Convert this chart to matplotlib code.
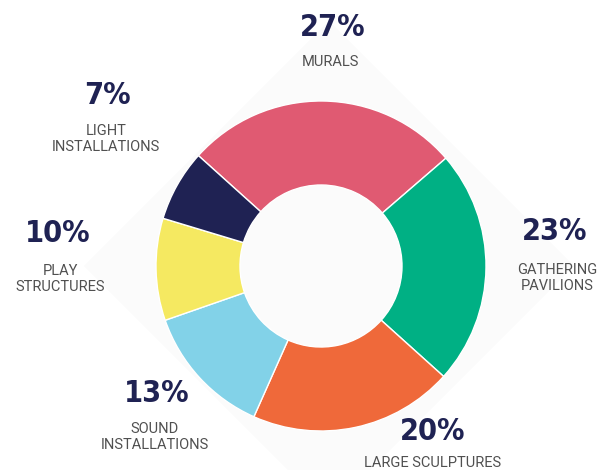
import matplotlib.pyplot as plt
from matplotlib.patches import Polygon

labels = ['MURALS', 'GATHERING\nPAVILIONS', 'LARGE SCULPTURES',
          'SOUND\nINSTALLATIONS', 'PLAY\nSTRUCTURES', 'LIGHT\nINSTALLATIONS']
values = [27, 23, 20, 13, 10, 7]
colors = ['#E05A72', '#00B084', '#EF693A', '#82D2E8', '#F5E961', '#1F2253']

# label anchor points (pixel coords, y from top)
pct_pos = [(333, 27), (555, 231), (433, 431), (157, 394), (58, 234), (107, 96)]
txt_pos = [(330, 62), (557, 278), (433, 463), (155, 437), (60, 279), (106, 139)]

W, H = 601, 470
fig = plt.figure(figsize=(W / 100, H / 100), dpi=100)
ax = fig.add_axes([0, 0, 1, 1])

cx, cy = 321, H - 266

# faint diamond in the background
d = 245
ax.add_patch(Polygon([(cx + 8, cy + d), (cx + 8 + d, cy), (cx + 8, cy - d), (cx + 8 - d, cy)],
                     closed=True, facecolor='#FBFBFB', edgecolor='none', zorder=0))

ax.pie(values, colors=colors, startangle=138, counterclock=False,
       center=(cx, cy), radius=165, frame=True,
       wedgeprops=dict(width=84, edgecolor='white', linewidth=1))
ax.set_xlim(0, W)
ax.set_ylim(0, H)
ax.set_aspect('equal')
ax.axis('off')

for v, lab, (px, py), (tx, ty) in zip(values, labels, pct_pos, txt_pos):
    ax.text(px, H - py, f'{v}%', ha='center', va='center', fontsize=22,
            fontweight='bold', family='DejaVu Sans', fontstretch='condensed',
            color='#1F2253')
    ax.text(tx, H - ty, lab, ha='center', va='center', fontsize=10.5,
            family='Roboto', color='#505050', linespacing=1.25)

fig.savefig('out.png', dpi=100)
